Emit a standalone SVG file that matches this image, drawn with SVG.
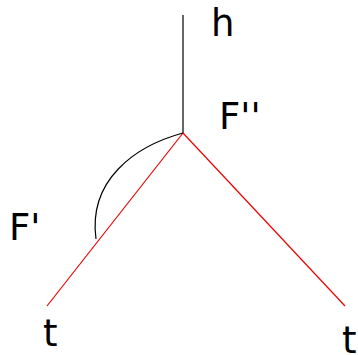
<svg xmlns="http://www.w3.org/2000/svg" width="358" height="355" viewBox="0 0 358 355">
<style>
text{font-family:"DejaVu Sans",sans-serif;font-size:37px;fill:#000}
.k{stroke:#000;stroke-width:1.2;fill:none}
.r{stroke:#e00;stroke-width:1.2;fill:none}
</style>
<rect width="358" height="355" fill="#fff"/>
<g id="connectors">
<line class="k" x1="183" y1="15" x2="183" y2="133"/>
<line class="r" x1="183" y1="133" x2="47" y2="306"/>
<line class="r" x1="183" y1="133" x2="345" y2="306"/>
<path class="k" d="M183,133 C135,146 88,180 96,239"/>
</g>
<g id="h"><text x="211" y="36">h</text></g>
<g id="F2"><text x="219" y="129">F''</text></g>
<g id="F1"><text x="9" y="240">F'</text></g>
<g id="t1"><text x="43" y="346">t</text></g>
<g id="t2"><text x="342" y="353">t</text></g>
</svg>
